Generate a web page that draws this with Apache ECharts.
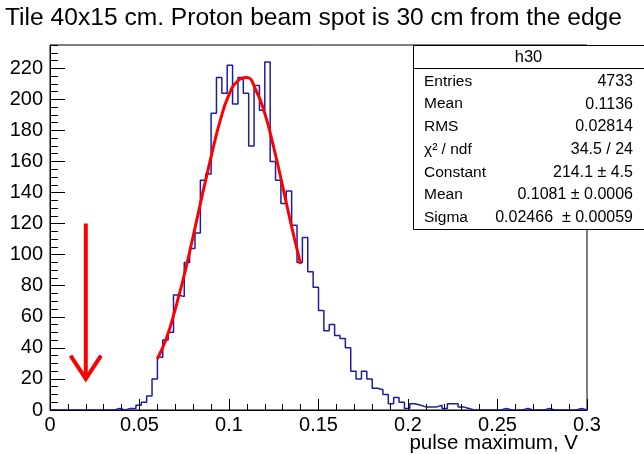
<!DOCTYPE html>
<html>
<head>
<meta charset="utf-8">
<script src="https://cdn.jsdelivr.net/npm/echarts@6/dist/echarts.min.js"></script>
<style>
html, body { margin: 0; padding: 0; background: #fff; }
#chart { width: 644px; height: 454px; }
</style>
</head>
<body>
<div id="chart"></div>
<script>
// h30 : 100 bins from 0 to 0.3 V
var binLow = 0;
var binWidth = 0.003;
var counts = [
    0, 0, 0, 0, 0, 0, 0, 0, 0, 0,
    0, 0, 1, 0, 1, 1, 3, 5, 9, 20,
    34, 45, 50, 74, 73, 95, 104, 114, 148, 152,
    191, 214, 204, 222, 197, 214, 204, 170, 209, 193,
    224, 160, 148, 133, 141, 119, 95, 111, 89, 79,
    64, 51, 55, 48, 46, 40, 25, 20, 25, 20,
    14, 13, 10, 4, 8, 5, 1, 4, 3, 2,
    2, 2, 3, 1, 4, 4, 2, 1, 0, 0,
    0, 0, 0, 0, 1, 0, 0, 0, 1, 0,
    0, 0, 1, 0, 0, 0, 0, 0, 1, 0
];
// gaus fit
var fitX = [0.06, 0.065, 0.07, 0.075, 0.08, 0.085, 0.09, 0.095, 0.1, 0.105, 0.11, 0.115, 0.12, 0.125, 0.13, 0.135, 0.14];
var fitY = [33, 46, 65, 87, 112, 138, 163, 186, 203, 212, 214, 206, 191, 169, 144, 118, 94];
// red arrow
var arrowShaft = [[0.02, 120], [0.02, 20]];
var arrowHead = [[0.0115, 35], [0.02, 20], [0.0285, 35]];

var titleText = 'Tile 40x15 cm. Proton beam spot is 30 cm from the edge';
var xTitle = 'pulse maximum, V';
var statsTitle = 'h30';
var statsNames = ['Entries', 'Mean', 'RMS', 'χ² / ndf', 'Constant', 'Mean', 'Sigma'];
var statsValues = ['4733', '0.1136', '0.02814', '34.5 / 24', '214.1 ± 4.5', '0.1081 ± 0.0006', '0.02466  ± 0.00059'];

var FONT = 'Liberation Sans, Arial, sans-serif';

// step outline: one point per bin low edge + closing point
var histData = [];
for (var i = 0; i < counts.length; i++) {
    histData.push([+(binLow + i * binWidth).toFixed(4), counts[i]]);
}
histData.push([+(binLow + counts.length * binWidth).toFixed(4), counts[counts.length - 1]]);

var fitData = [];
for (var j = 0; j < fitX.length; j++) {
    fitData.push([fitX[j], fitY[j]]);
}

var graphics = [];
graphics.push({
    type: 'text', z: 100, x: 5, y: 18,
    style: { text: titleText, font: '24.6px ' + FONT, fill: '#000', textVerticalAlign: 'middle' }
});
graphics.push({
    type: 'text', z: 100, x: 578, y: 443,
    style: { text: xTitle, font: '20.5px ' + FONT, fill: '#000', textAlign: 'right', textVerticalAlign: 'middle' }
});
// stats box
graphics.push({
    type: 'rect', z: 100,
    shape: { x: 413.5, y: 45.5, width: 240, height: 184 },
    style: { fill: '#fff', stroke: '#000', lineWidth: 1 }
});
graphics.push({
    type: 'line', z: 101,
    shape: { x1: 413.5, y1: 68.5, x2: 644, y2: 68.5 },
    style: { stroke: '#000', lineWidth: 1 }
});
graphics.push({
    type: 'text', z: 101, x: 528.5, y: 57,
    style: { text: statsTitle, font: '16.5px ' + FONT, fill: '#000', textAlign: 'center', textVerticalAlign: 'middle' }
});
for (var k = 0; k < statsNames.length; k++) {
    var yy = 81.5 + k * 22.7;
    graphics.push({
        type: 'text', z: 101, x: 424, y: yy,
        style: { text: statsNames[k], font: '15.5px ' + FONT, fill: '#000', textVerticalAlign: 'middle' }
    });
    graphics.push({
        type: 'text', z: 101, x: 633, y: yy,
        style: { text: statsValues[k], font: '16px ' + FONT, fill: '#000', textAlign: 'right', textVerticalAlign: 'middle' }
    });
}

var option = {
    animation: false,
    backgroundColor: '#fff',
    grid: {
        left: 50, top: 45, width: 537, height: 365,
        show: true, borderColor: '#000', borderWidth: 1, backgroundColor: 'transparent'
    },
    xAxis: [
        {
            type: 'value', min: 0, max: 0.3, interval: 0.05, position: 'bottom', z: 5,
            axisLine: { show: true, onZero: false, lineStyle: { color: '#000', width: 1 } },
            axisTick: { show: true, inside: true, length: 11, lineStyle: { color: '#000' } },
            axisLabel: {
                color: '#000', fontSize: 20, fontFamily: FONT, margin: 5,
                formatter: function (v) { return String(+v.toFixed(2)); }
            },
            splitLine: { show: false }
        },
        {
            type: 'value', min: 0, max: 0.3, interval: 0.01, position: 'bottom', z: 5,
            axisLine: { show: false },
            axisTick: { show: true, inside: true, length: 6, lineStyle: { color: '#000' } },
            axisLabel: { show: false },
            splitLine: { show: false }
        }
    ],
    yAxis: [
        {
            type: 'value', min: 0, max: 235, interval: 20, position: 'left', z: 5,
            axisLine: { show: true, onZero: false, lineStyle: { color: '#000', width: 1 } },
            axisTick: { show: true, inside: true, length: 15, lineStyle: { color: '#000' } },
            axisLabel: { color: '#000', fontSize: 20, fontFamily: FONT, margin: 7, showMaxLabel: false },
            splitLine: { show: false }
        },
        {
            type: 'value', min: 0, max: 235, interval: 5, position: 'left', z: 5,
            axisLine: { show: false },
            axisTick: { show: true, inside: true, length: 8, lineStyle: { color: '#000' } },
            axisLabel: { show: false },
            splitLine: { show: false }
        }
    ],
    series: [
        {
            name: 'h30', type: 'line', step: 'end', data: histData,
            xAxisIndex: 0, yAxisIndex: 0, z: 2,
            symbol: 'none', lineStyle: { color: '#1c1caa', width: 1.5 }
        },
        {
            name: 'gaus', type: 'line', data: fitData, smooth: true,
            xAxisIndex: 0, yAxisIndex: 0, z: 3,
            symbol: 'none', lineStyle: { color: '#ff0000', width: 3 }
        },
        {
            name: 'arrow', type: 'line', data: arrowShaft,
            xAxisIndex: 0, yAxisIndex: 0, z: 3,
            symbol: 'none', lineStyle: { color: '#ff0000', width: 4 }
        },
        {
            name: 'arrowHead', type: 'line', data: arrowHead,
            xAxisIndex: 0, yAxisIndex: 0, z: 3,
            symbol: 'none', lineStyle: { color: '#ff0000', width: 4, join: 'miter' }
        }
    ],
    graphic: graphics
};

var chart = echarts.init(document.getElementById('chart'));
chart.setOption(option);
</script>
</body>
</html>
